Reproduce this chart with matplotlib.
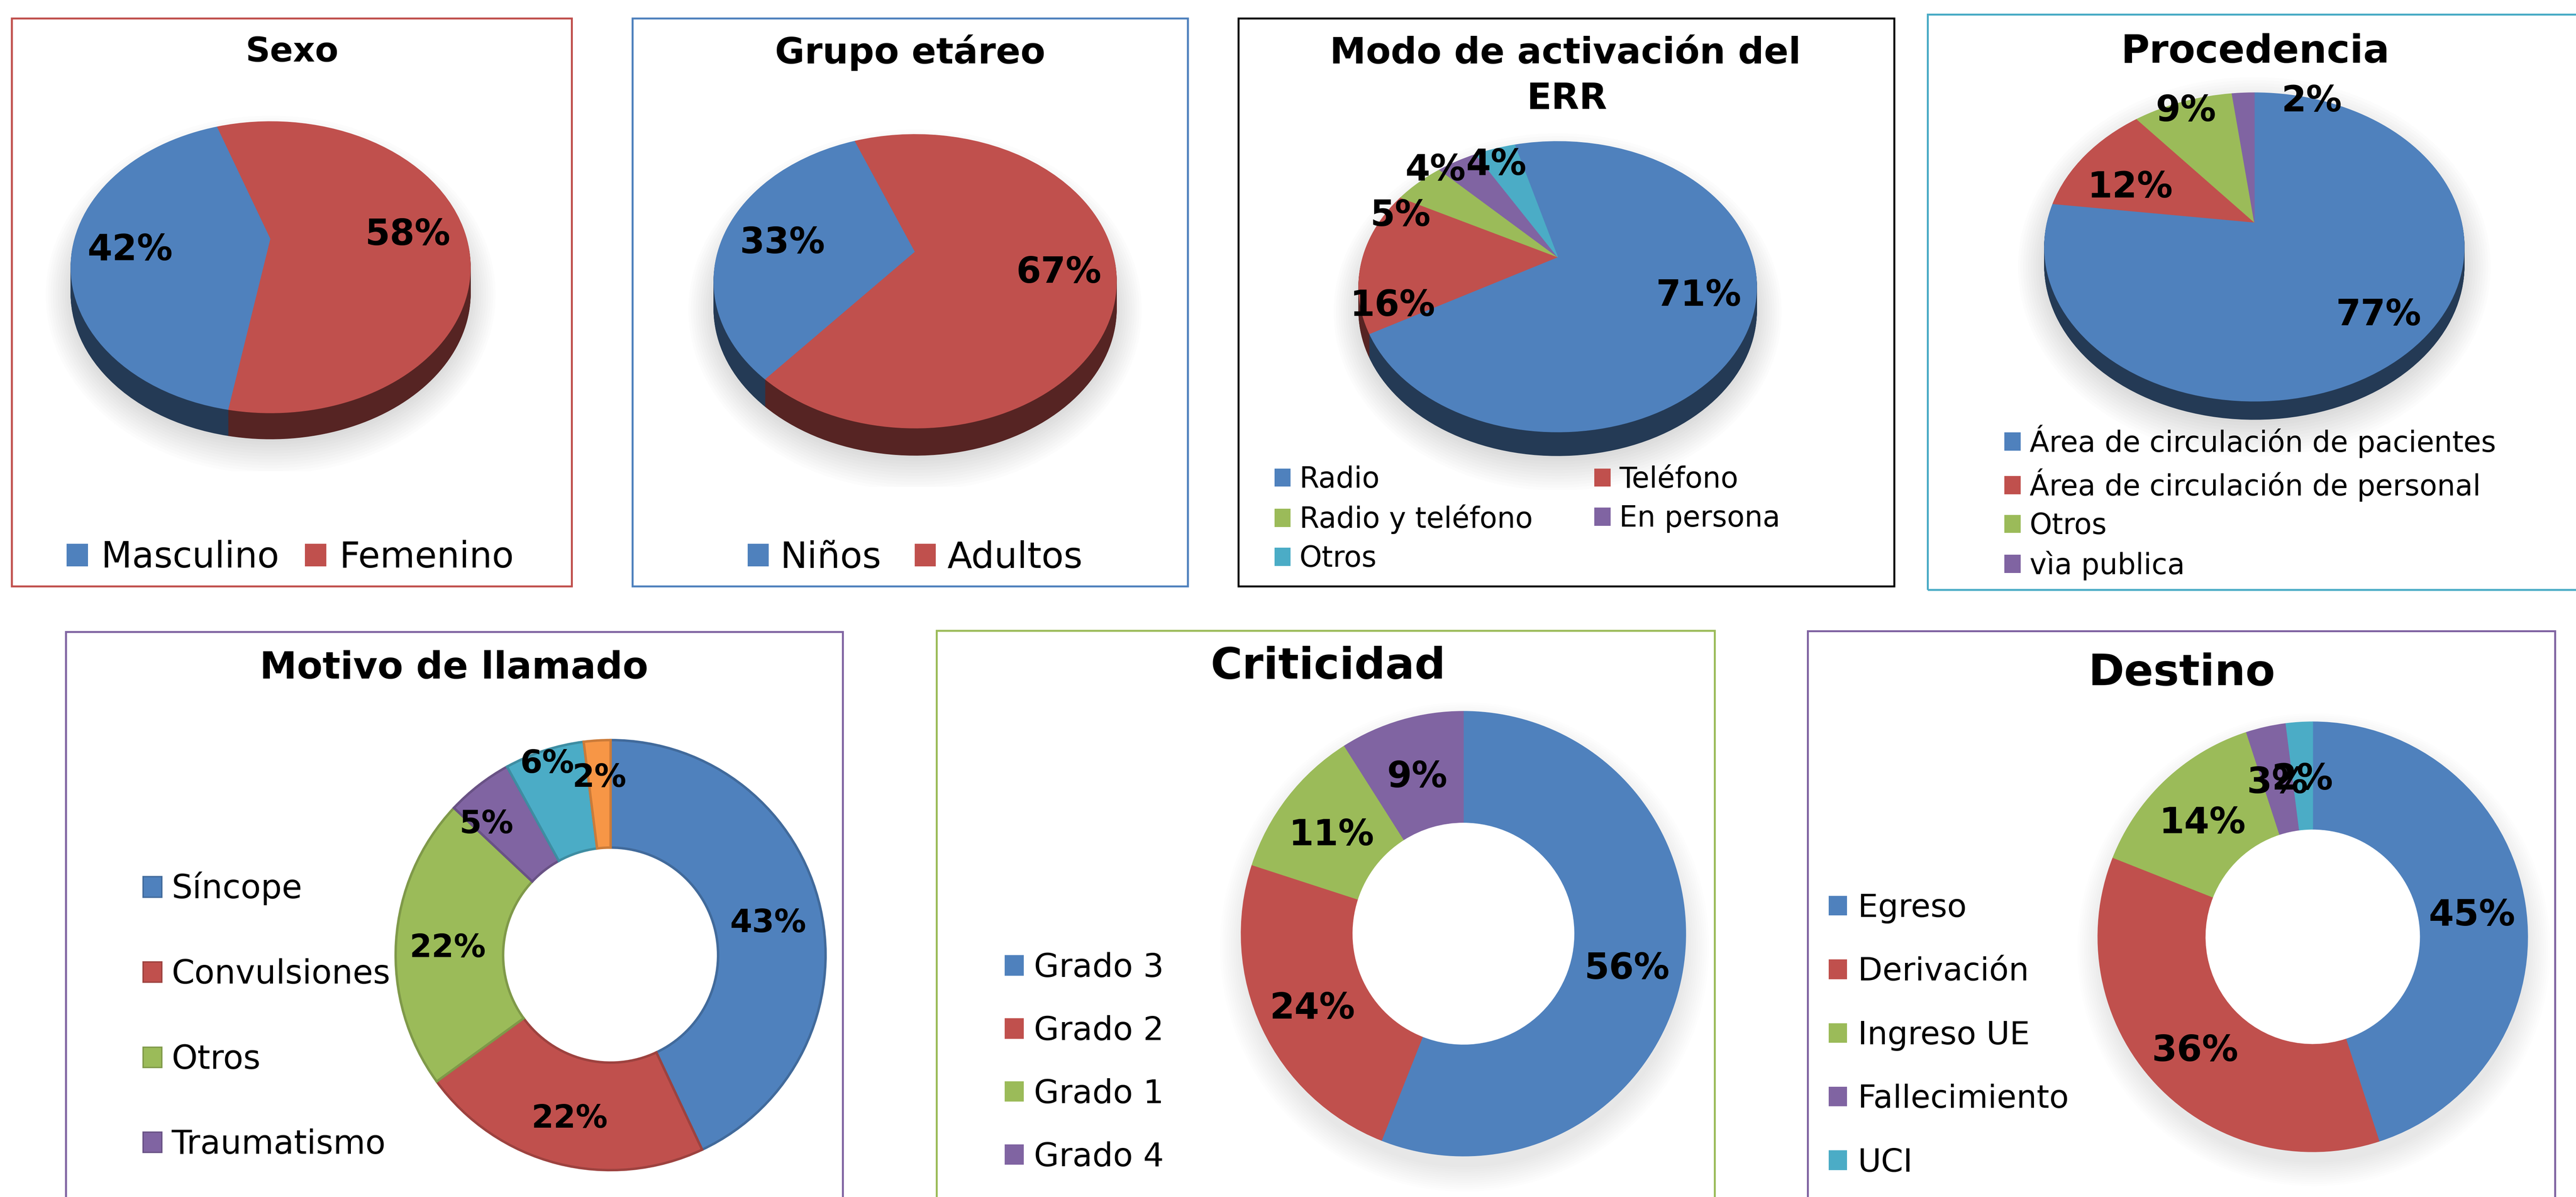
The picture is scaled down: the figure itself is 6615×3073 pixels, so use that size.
import numpy as np
import matplotlib
matplotlib.use('Agg')
import matplotlib.pyplot as plt
import matplotlib.colors as mcolors
from matplotlib.transforms import Transform
from matplotlib.patches import Rectangle, Patch, Wedge, Ellipse

# ---------------- data ----------------
sexo_labels = ['Masculino', 'Femenino']
sexo_values = [42, 58]

grupo_labels = ['Niños', 'Adultos']
grupo_values = [33, 67]

modo_labels = ['Radio', 'Teléfono', 'Radio y teléfono', 'En persona', 'Otros']
modo_values = [71, 16, 5, 4, 4]

proc_labels = ['Área de circulación de pacientes', 'Área de circulación de personal',
               'Otros', 'vìa publica']
proc_values = [77, 12, 9, 2]

motivo_labels = ['Síncope', 'Convulsiones', 'Otros', 'Traumatismo']   # visible legend entries
motivo_values = [43, 22, 22, 5, 6, 2]

crit_labels = ['Grado 3', 'Grado 2', 'Grado 1', 'Grado 4']
crit_values = [56, 24, 11, 9]

dest_labels = ['Egreso', 'Derivación', 'Ingreso UE', 'Fallecimiento', 'UCI']
dest_values = [45, 36, 14, 3, 2]

# ---------------- style ----------------
BLUE, RED, GREEN, PURPLE, CYAN, ORANGE = '#4F81BD', '#C0504D', '#9BBB59', '#8064A2', '#4BACC6', '#F79646'
PALETTE = [BLUE, RED, GREEN, PURPLE, CYAN, ORANGE]

W, H = 6615, 3073
DPI = 100
plt.rcParams['font.family'] = ['DejaVu Sans']
fig = plt.figure(figsize=(W / DPI, H / DPI), dpi=DPI)
fig.patch.set_facecolor('white')


def darken(c, f):
    r, g, b = mcolors.to_rgb(c)
    return (r * f, g * f, b * f)


def px_rect(x0, y0, x1, y1):
    return [x0 / W, 1 - y1 / H, (x1 - x0) / W, (y1 - y0) / H]


def box(x0, y0, x1, y1, color):
    fig.add_artist(Rectangle((x0 / W, 1 - y1 / H), (x1 - x0) / W, (y1 - y0) / H,
                             transform=fig.transFigure, fill=False, edgecolor=color,
                             linewidth=3.6, zorder=0))


def ftext(x, y, s, size, weight='bold', ha='center', va='baseline'):
    fig.text(x / W, 1 - y / H, s, fontsize=size, fontweight=weight, ha=ha, va=va)


class Persp(Transform):
    """Perspective view of a tilted disc: unit circle -> unit circle, centre shifted up by a."""
    input_dims = 2
    output_dims = 2
    is_separable = False
    has_inverse = False

    def __init__(self, a, drop=0.0):
        super().__init__()
        self.a = a
        self.s = np.sqrt(1 - a * a)
        self.drop = drop

    def transform_non_affine(self, values):
        v = np.asarray(values, dtype=float).reshape(-1, 2)
        x, y = v[:, 0], v[:, 1]
        w = 1.0 + self.a * y
        return np.column_stack([self.s * x / w, (y + self.a) / w - self.drop])


def pie3d(cx, cy, rx, ry, thick, a, values, colors, start, lab_r, lab_dth, fs):
    m = 1.4
    ax = fig.add_axes(px_rect(cx - m * rx, cy - m * ry, cx + m * rx, cy + m * ry))
    ax.set_axis_off()
    t = thick / ry
    # soft shadow under the disc
    for j in range(14):
        ax.add_patch(Ellipse((0.0, -t - 0.01), 2 * (0.97 + 0.012 * j), 2 * (0.97 + 0.02 * j),
                             facecolor='black', edgecolor='none', alpha=0.012, zorder=0))
    side = [darken(c, 0.45) for c in colors]
    n = 40
    for k in range(n, 0, -1):
        wl, _ = ax.pie(values, colors=side, startangle=start, counterclock=False)
        for w in wl:
            w.set_edgecolor(w.get_facecolor())
            w.set_linewidth(1.0)
            w.set_transform(Persp(a, t * k / n) + ax.transData)
    wt, _ = ax.pie(values, colors=colors, startangle=start, counterclock=False)
    for w in wt:
        w.set_edgecolor(w.get_facecolor())
        w.set_linewidth(1.0)
        w.set_transform(Persp(a) + ax.transData)
    ax.set_xlim(-m, m)
    ax.set_ylim(-m, m)
    ax.set_aspect('auto')
    for i, w in enumerate(wt):
        mid = np.deg2rad(0.5 * (w.theta1 + w.theta2) - lab_dth[i])
        ax.text(lab_r[i] * np.cos(mid), lab_r[i] * np.sin(mid), f'{values[i]:.0f}%',
                transform=Persp(a) + ax.transData, ha='center', va='center_baseline',
                fontsize=fs, fontweight='bold')
    return ax


def donut(cx, cy, R, values, colors, lab_r, lab_dth, fs, edge=False, shadow=False):
    m = 1.2
    ax = fig.add_axes(px_rect(cx - m * R, cy - m * R, cx + m * R, cy + m * R))
    ax.set_axis_off()
    if shadow:
        for j in range(12):
            ro = 0.99 + 0.01 * j
            ri = 0.57
            ax.add_patch(Wedge((0.005, -0.06), ro, 0, 360, width=ro - ri,
                               facecolor='black', edgecolor='none', alpha=0.007, zorder=0))
    wl, _ = ax.pie(values, colors=colors, startangle=90, counterclock=False,
                   wedgeprops=dict(width=0.5))
    for w in wl:
        fc = w.get_facecolor()
        if edge:
            w.set_edgecolor(darken(fc, 0.82))
            w.set_linewidth(4.5)
        else:
            w.set_edgecolor(fc)
            w.set_linewidth(1.0)
    ax.set_xlim(-m, m)
    ax.set_ylim(-m, m)
    ax.set_aspect('auto')
    for i, w in enumerate(wl):
        mid = np.deg2rad(0.5 * (w.theta1 + w.theta2) - lab_dth[i])
        ax.text(lab_r[i] * np.cos(mid), lab_r[i] * np.sin(mid), f'{values[i]:.0f}%',
                ha='center', va='center_baseline', fontsize=fs, fontweight='bold')
    return ax


def legend(labels, colors, x, y, fs, loc, ncol=1, hl=0.6, hh=0.6, pad=0.35,
           ls=0.4, cs=1.0, edge=False):
    handles = [Patch(facecolor=c, edgecolor=(darken(c, 0.82) if edge else 'none'),
                     linewidth=(2.5 if edge else 0)) for c in colors]
    fig.legend(handles, labels, loc=loc, bbox_to_anchor=(x / W, 1 - y / H),
               bbox_transform=fig.transFigure, ncol=ncol, fontsize=fs, frameon=False,
               borderpad=0, borderaxespad=0, handlelength=hl, handleheight=hh,
               handletextpad=pad, labelspacing=ls, columnspacing=cs)


# ---------------- panel boxes ----------------
box(30, 47, 1468, 1505, RED)
box(1624, 47, 3050, 1505, BLUE)
box(3180, 47, 4864, 1505, 'black')
box(4950, 37, W + 60, 1514, CYAN)
box(169, 1622, 2164, H + 60, PURPLE)
box(2405, 1619, 4403, H + 60, GREEN)
box(4642, 1620, 6561, H + 60, PURPLE)

# ---------------- Sexo ----------------
ftext(750, 158, 'Sexo', 63)
pie3d(695, 686, 513, 374, 67, 0.195, sexo_values, [BLUE, RED], -100,
      [0.71, 0.71], [0, 0], 66)
legend(sexo_labels, [BLUE, RED], 745, 1431, 66, 'center', ncol=2,
       hl=0.6, hh=0.6, pad=0.37, cs=0.72)

# ---------------- Grupo etáreo ----------------
ftext(2337, 163, 'Grupo etáreo', 67)
pie3d(2350, 722, 517, 377, 70, 0.2, grupo_values, [BLUE, RED], -130,
      [0.69, 0.72], [-2, 0], 66)
legend(grupo_labels, [BLUE, RED], 2350, 1432, 67, 'center', ncol=2,
       hl=0.58, hh=0.58, pad=0.32, cs=0.92)

# ---------------- Modo de activación ----------------
ftext(4020, 163, 'Modo de activación del', 67)
ftext(4024, 280, 'ERR', 67)
modo_colors = [BLUE, RED, GREEN, PURPLE, CYAN]
pie3d(4000, 736, 511, 373, 61, 0.204, modo_values, modo_colors, 105.3,
      [0.73, 0.85, 0.93, 1.04, 0.88], [-3.5, -20, -15, -7, -2], 66)
order = [0, 2, 4, 1, 3]   # row-wise fill of a two-column legend
legend([modo_labels[i] for i in order], [modo_colors[i] for i in order], 3273, 1195, 53,
       'upper left', ncol=2, hl=0.56, hh=0.6, pad=0.31, ls=0.37, cs=2.15)

# ---------------- Procedencia ----------------
ftext(5792, 161, 'Procedencia', 72)
proc_colors = [BLUE, RED, GREEN, PURPLE]
pie3d(5789, 634, 539, 396, 47, 0.16, proc_values, proc_colors, 90,
      [0.77, 0.68, 0.95, 1.01], [-4, -5.6, 0, 22], 66)
legend(proc_labels, proc_colors, 5147, 1090, 53, 'upper left',
       hl=0.57, hh=0.6, pad=0.31, ls=0.36)

# ---------------- Motivo de llamado ----------------
ftext(1166, 1742, 'Motivo de llamado', 69)
donut(1568, 2452, 552, motivo_values, PALETTE[:6],
      [0.75, 0.77, 0.76, 0.85, 0.95, 0.84], [0, 0, 0, -5, 0, 0], 59, edge=True)
legend(motivo_labels, PALETTE[:4], 367, 2238, 61, 'upper left',
       hl=0.57, hh=0.57, pad=0.3, ls=1.6, edge=True)

# ---------------- Criticidad ----------------
ftext(3410, 1742, 'Criticidad', 80)
crit_colors = [BLUE, RED, GREEN, PURPLE]
donut(3758, 2397, 571, crit_values, crit_colors, [0.75] * 4, [0] * 4, 66, shadow=True)
legend(crit_labels, crit_colors, 2580, 2444, 60, 'upper left',
       hl=0.59, hh=0.59, pad=0.31, ls=0.97)

# ---------------- Destino ----------------
ftext(5603, 1759, 'Destino', 80)
dest_colors = [BLUE, RED, GREEN, PURPLE, CYAN]
donut(5939, 2405, 552, dest_values, dest_colors, [0.75] * 5, [0] * 5, 67, shadow=True)
legend(dest_labels, dest_colors, 4696, 2292, 59, 'upper left',
       hl=0.57, hh=0.57, pad=0.34, ls=1.03)

fig.savefig('out.png', dpi=DPI, facecolor='white')
